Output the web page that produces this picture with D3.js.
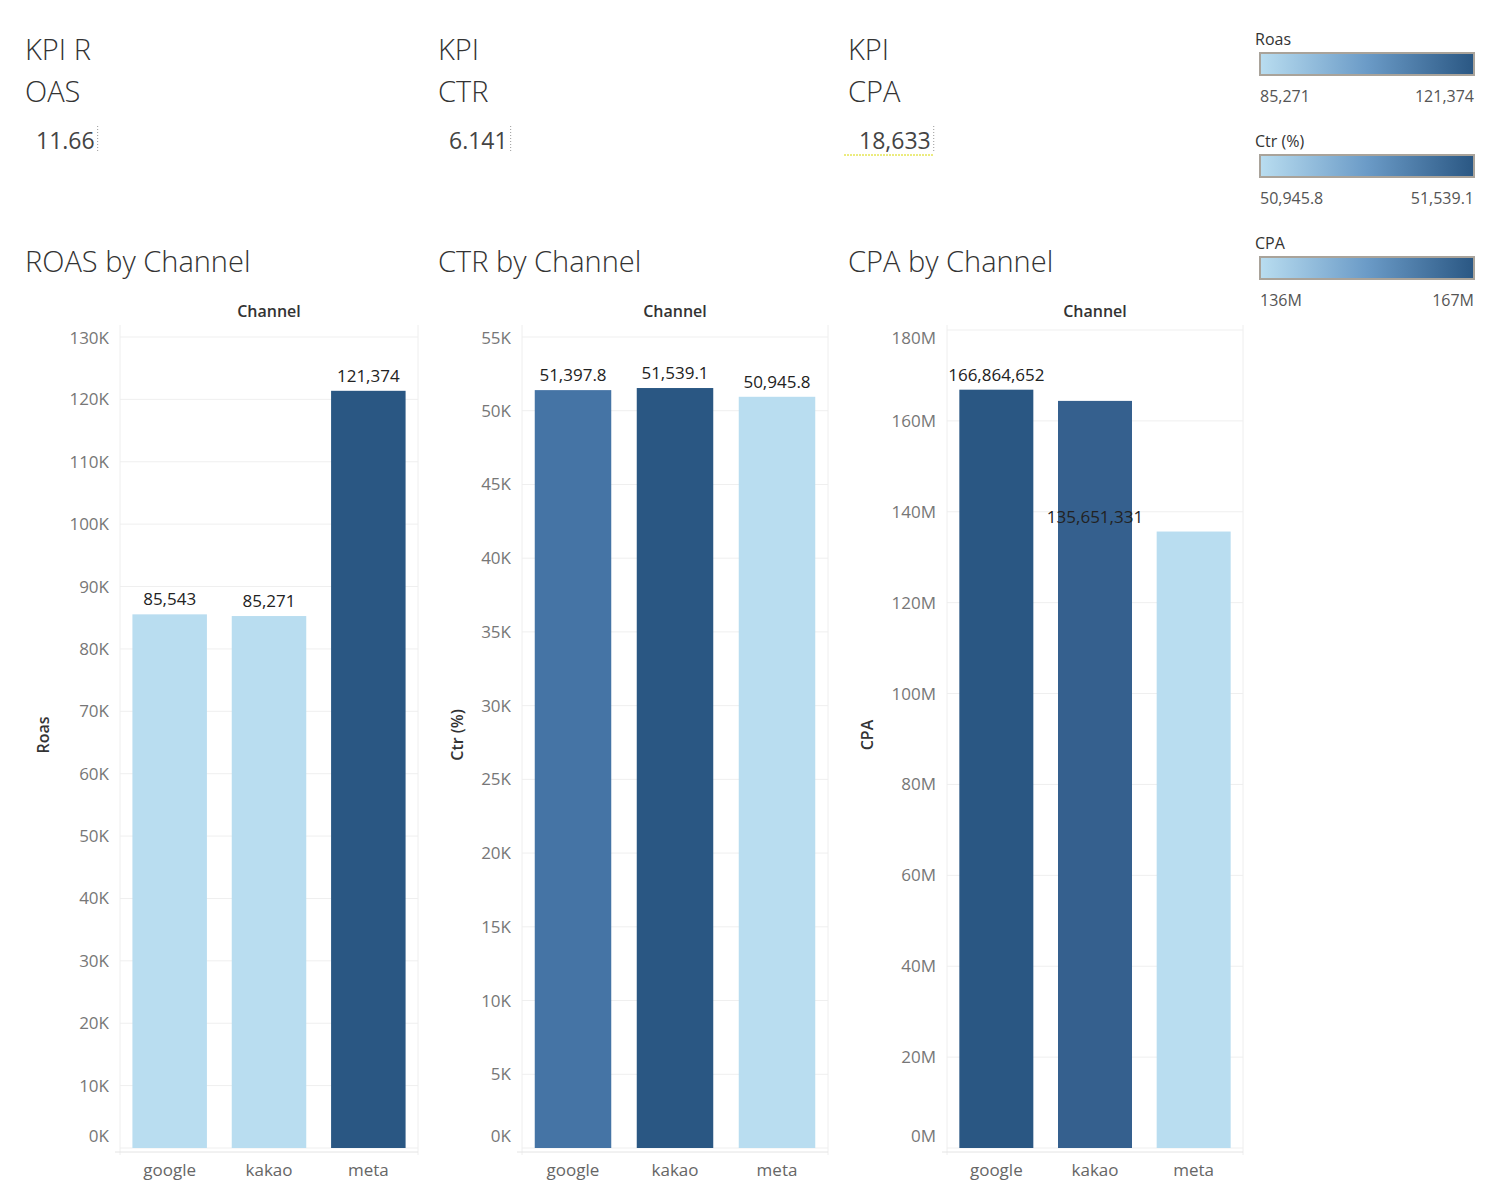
<!DOCTYPE html>
<html>
<head>
<script src="https://cdn.jsdelivr.net/npm/d3@7/dist/d3.min.js"></script>
<style>
body { margin:0; background:#fff; font-family:"Open Sans", sans-serif; }
</style>
</head>
<body>
<script>
var channels = ["google", "kakao", "meta"];
var roasValues = [85543, 85271, 121374];
var ctrValues = [51397.8, 51539.1, 50945.8];
var cpaValues = [166864652, 164400000, 135651331];
var kpiTitles = [["KPI R", "OAS"], ["KPI", "CTR"], ["KPI", "CPA"]];
var kpiValues = ["11.66", "6.141", "18,633"];
var roasTicks = d3.range(0, 130001, 10000);
var ctrTicks = d3.range(0, 55001, 5000);
var cpaTicks = d3.range(0, 180000001, 20000000);
var legendNames = ["Roas", "Ctr (%)", "CPA"];
var legendLabels = [["85,271", "121,374"], ["50,945.8", "51,539.1"], ["136M", "167M"]];

var svg = d3.select("body").append("svg").attr("width", 1499).attr("height", 1199);
var light = "#b9ddf0", dark = "#2a5783";

// KPI text
var kx = [25, 438, 848];
kpiTitles.forEach(function(t, i) {
	svg.append("text").attr("x", kx[i]).attr("y", 60).text(t[0])
		.attr("font-size", 29).attr("font-weight", 300).attr("fill", "#333");
	svg.append("text").attr("x", kx[i]).attr("y", 102).text(t[1])
		.attr("font-size", 29).attr("font-weight", 300).attr("fill", "#333");
	var v = svg.append("text").attr("x", kx[i] + 11).attr("y", 149).text(kpiValues[i])
		.attr("font-size", 23).attr("fill", "#444");
	var w = v.node().getComputedTextLength();
	svg.append("line").attr("x1", kx[i] + 11 + w + 3).attr("x2", kx[i] + 11 + w + 3)
		.attr("y1", 126).attr("y2", 152).attr("stroke", "#999").attr("stroke-dasharray", "1,2");
	if (i == 2) svg.append("line").attr("x1", kx[i] - 4).attr("x2", kx[i] + 11 + w + 3)
		.attr("y1", 155).attr("y2", 155).attr("stroke", "#d8d800").attr("stroke-dasharray", "2,1");
});

// legends
var grad = svg.append("defs").append("linearGradient").attr("id", "g");
grad.append("stop").attr("offset", "0%").attr("stop-color", light);
grad.append("stop").attr("offset", "50%").attr("stop-color", "#6b9bc7");
grad.append("stop").attr("offset", "100%").attr("stop-color", dark);
legendNames.forEach(function(n, i) {
	var y0 = 39 + i * 102;
	svg.append("text").attr("x", 1255).attr("y", y0 + 6).text(n).attr("font-size", 16).attr("fill", "#333");
	svg.append("rect").attr("x", 1260).attr("y", y0 + 14).attr("width", 214).attr("height", 22)
		.attr("fill", "url(#g)").attr("stroke", "#a9a39a").attr("stroke-width", 2);
	svg.append("text").attr("x", 1260).attr("y", y0 + 63).text(legendLabels[i][0]).attr("font-size", 16).attr("fill", "#555");
	svg.append("text").attr("x", 1474).attr("y", y0 + 63).text(legendLabels[i][1]).attr("font-size", 16)
		.attr("fill", "#555").attr("text-anchor", "end");
});

function panel(o) {
	var g = svg.append("g");
	g.append("text").attr("x", o.tx).attr("y", 272).text(o.title)
		.attr("font-size", 29).attr("font-weight", 300).attr("fill", "#333");
	g.append("text").attr("x", (o.x0 + o.x1) / 2).attr("y", 317).text("Channel")
		.attr("text-anchor", "middle").attr("font-size", 16).attr("font-weight", 600).attr("fill", "#333");
	g.append("text").attr("transform", "translate(" + o.lx + ",735) rotate(-90)").text(o.ylabel)
		.attr("text-anchor", "middle").attr("font-size", 16).attr("font-weight", 600).attr("fill", "#333");
	var x = d3.scaleBand().domain(channels).range([o.x0, o.x1]).paddingInner(0.25).paddingOuter(0.125);
	var y = d3.scaleLinear().domain(o.domain).range([1148, o.ytop]);
	// grid
	g.selectAll(".grid").data(o.ticks).enter().append("line")
		.attr("x1", o.x0).attr("x2", o.x1).attr("y1", function(d) { return y(d); }).attr("y2", function(d) { return y(d); })
		.attr("stroke", "#efefef");
	g.append("line").attr("x1", o.x0).attr("x2", o.x0).attr("y1", 325).attr("y2", 1155).attr("stroke", "#eee");
	g.append("line").attr("x1", o.x1).attr("x2", o.x1).attr("y1", 325).attr("y2", 1155).attr("stroke", "#eee");
	g.append("line").attr("x1", o.x0 - 5).attr("x2", o.x1).attr("y1", 1152).attr("y2", 1152).attr("stroke", "#e4e4e4");
	g.selectAll(".tk").data(o.ticks).enter().append("text")
		.attr("x", o.x0 - 11).attr("y", function(d) { return Math.min(1136, Math.max(338, y(d))) + 6; })
		.attr("text-anchor", "end").attr("font-size", 17).attr("fill", "#777").text(o.fmt);
	g.selectAll(".bar").data(o.values).enter().append("rect")
		.attr("x", function(d, i) { return x(channels[i]); }).attr("width", x.bandwidth())
		.attr("y", function(d) { return y(d); }).attr("height", function(d) { return 1148 - y(d); })
		.attr("fill", function(d, i) { return o.colors[i]; });
	g.selectAll(".lbl").data(o.values).enter().append("text")
		.filter(function(d, i) { return o.labels[i]; })
		.attr("x", function(d, i) { return x(channels[i]) + x.bandwidth() / 2; })
		.attr("y", function(d) { return y(d) - 9; }).attr("text-anchor", "middle")
		.attr("font-size", 17).attr("fill", "#222").text(o.lfmt);
	g.selectAll(".cat").data(channels).enter().append("text")
		.attr("x", function(d) { return x(d) + x.bandwidth() / 2; }).attr("y", 1176)
		.attr("text-anchor", "middle").attr("font-size", 17).attr("fill", "#666").text(function(d) { return d; });
}

panel({ title: "ROAS by Channel", tx: 25, x0: 120, x1: 418, lx: 49, ylabel: "Roas",
	domain: [0, 130000], ytop: 337, ticks: roasTicks, values: roasValues,
	colors: [light, light, dark], labels: [1, 1, 1],
	fmt: function(d) { return d / 1000 + "K"; }, lfmt: d3.format(",") });
panel({ title: "CTR by Channel", tx: 438, x0: 522, x1: 828, lx: 463, ylabel: "Ctr (%)",
	domain: [0, 55000], ytop: 337, ticks: ctrTicks, values: ctrValues,
	colors: ["#4574a5", dark, light], labels: [1, 1, 1],
	fmt: function(d) { return d / 1000 + "K"; }, lfmt: d3.format(",.1f") });
panel({ title: "CPA by Channel", tx: 848, x0: 947, x1: 1243, lx: 873, ylabel: "CPA",
	domain: [0, 180000000], ytop: 330, ticks: cpaTicks, values: cpaValues,
	colors: [dark, "#35608e", light], labels: [1, 0, 1],
	fmt: function(d) { return d / 1e6 + "M"; }, lfmt: d3.format(",") });
</script>
</body>
</html>
